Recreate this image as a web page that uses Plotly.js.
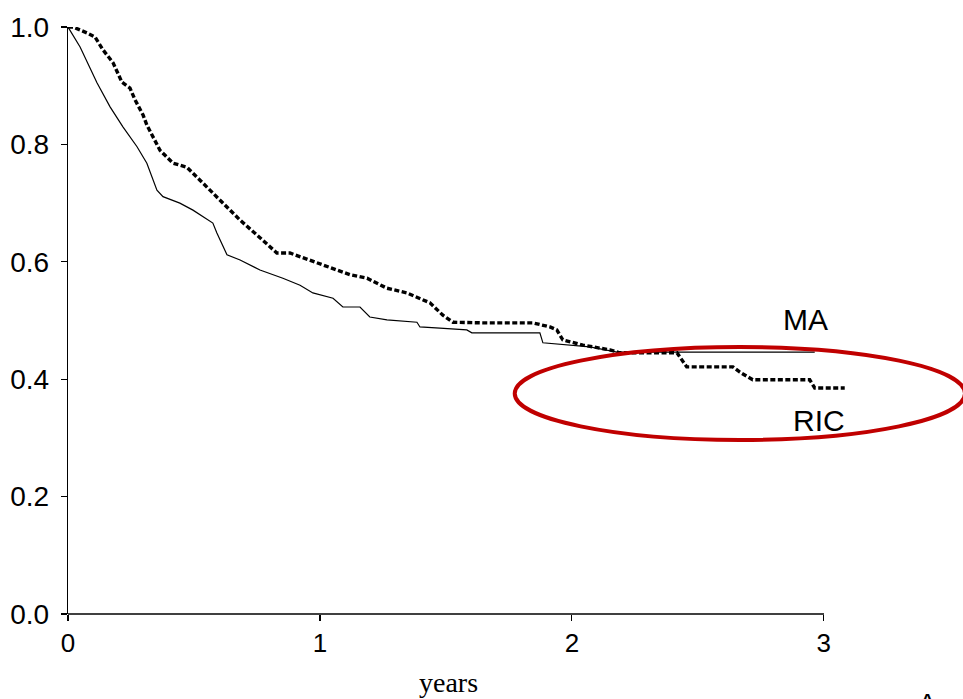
<!DOCTYPE html>
<html>
<head>
<meta charset="utf-8">
<script src="https://cdn.plot.ly/plotly-3.0.1.min.js"></script>
<style>html,body{margin:0;padding:0;background:#fff;}#chart{width:963px;height:699px;}</style>
</head>
<body>
<div id="chart"></div>
<script>
// Survival curves (years, proportion surviving)
var maYears = [0, 0.048, 0.115, 0.167, 0.218, 0.274, 0.313, 0.353, 0.377, 0.444, 0.496, 0.524, 0.575, 0.591, 0.631, 0.683, 0.762, 0.853, 0.921, 0.972, 1.052, 1.091, 1.159, 1.198, 1.266, 1.385, 1.397, 1.476, 1.583, 1.603, 1.873, 1.885, 2.071, 2.179, 2.964];
var maSurv  = [1.0, 0.966, 0.905, 0.864, 0.830, 0.796, 0.768, 0.722, 0.711, 0.700, 0.688, 0.680, 0.666, 0.649, 0.612, 0.603, 0.586, 0.572, 0.560, 0.547, 0.538, 0.523, 0.523, 0.506, 0.501, 0.497, 0.489, 0.487, 0.484, 0.479, 0.479, 0.462, 0.455, 0.446, 0.446];

var ricYears = [0, 0.02, 0.075, 0.107, 0.139, 0.179, 0.214, 0.246, 0.266, 0.298, 0.313, 0.365, 0.417, 0.472, 0.524, 0.591, 0.683, 0.762, 0.829, 0.881, 0.960, 1.052, 1.119, 1.187, 1.266, 1.345, 1.437, 1.488, 1.528, 1.647, 1.845, 1.913, 1.940, 1.964, 2.044, 2.151, 2.190, 2.417, 2.437, 2.456, 2.639, 2.667, 2.718, 2.944, 2.964, 3.083];
var ricSurv  = [1.0, 1.0, 0.990, 0.983, 0.961, 0.939, 0.906, 0.896, 0.876, 0.850, 0.833, 0.790, 0.768, 0.761, 0.739, 0.710, 0.671, 0.641, 0.615, 0.615, 0.603, 0.589, 0.578, 0.572, 0.555, 0.547, 0.530, 0.509, 0.497, 0.496, 0.496, 0.489, 0.484, 0.467, 0.458, 0.450, 0.445, 0.445, 0.433, 0.421, 0.421, 0.412, 0.399, 0.399, 0.385, 0.385];

var xTickVals = [0, 1, 2, 3];
var xTickText = ['0', '1', '2', '3'];
var yTickVals = [0, 0.2, 0.4, 0.6, 0.8, 1.0];
var yTickText = ['0.0', '0.2', '0.4', '0.6', '0.8', '1.0'];
var seriesLabels = ['MA', 'RIC'];

var traces = [
  {x: maYears, y: maSurv, type: 'scatter', mode: 'lines', name: seriesLabels[0],
   line: {color: '#000', width: 1.2, shape: 'linear'}},
  {x: ricYears, y: ricSurv, type: 'scatter', mode: 'lines', name: seriesLabels[1],
   line: {color: '#000', width: 3.4, dash: '5px,2.5px', shape: 'linear'}}
];

var layout = {
  width: 963, height: 699,
  margin: {l: 68, r: 114, t: 27, b: 85, pad: 0},
  paper_bgcolor: '#fff', plot_bgcolor: '#fff',
  showlegend: false,
  font: {family: 'Liberation Sans, Arial, sans-serif', color: '#000'},
  xaxis: {
    range: [0, 3.1], showgrid: false, zeroline: false, showline: false,
    tickmode: 'array', tickvals: xTickVals, ticktext: xTickText,
    ticks: 'outside', ticklen: 6, tickwidth: 1.2, tickcolor: '#000',
    tickfont: {size: 26, family: 'Liberation Sans, Arial, sans-serif', color: '#000'}
  },
  yaxis: {
    range: [0, 1], showgrid: false, zeroline: false, showline: true, linecolor: '#000', linewidth: 1.2,
    tickmode: 'array', tickvals: yTickVals, ticktext: yTickText,
    ticks: 'outside', ticklen: 6, tickwidth: 1.2, tickcolor: '#000',
    ticklabelstandoff: 6,
    tickfont: {size: 28, family: 'Liberation Sans, Arial, sans-serif', color: '#000'}
  },
  shapes: [
    {type: 'line', xref: 'paper', yref: 'paper', x0: 0, x1: 0.968, y0: 0, y1: 0,
     line: {color: '#000', width: 1.5}},
    {type: 'circle', xref: 'paper', yref: 'paper', x0: 0.572, x1: 1.1485, y0: 0.2964, y1: 0.4549,
     line: {color: '#c00000', width: 4}}
  ],
  annotations: [
    {text: seriesLabels[0], xref: 'paper', yref: 'paper', x: 0.9437, y: 0.5009, showarrow: false,
     xanchor: 'center', yanchor: 'middle', font: {size: 30, family: 'Liberation Sans, Arial, sans-serif', color: '#000'}},
    {text: seriesLabels[1], xref: 'paper', yref: 'paper', x: 0.9616, y: 0.3288, showarrow: false,
     xanchor: 'center', yanchor: 'middle', font: {size: 30, family: 'Liberation Sans, Arial, sans-serif', color: '#000'}},
    {text: 'years', xref: 'paper', yref: 'paper', x: 0.4878, y: -0.1175, showarrow: false,
     xanchor: 'center', yanchor: 'middle', font: {size: 28, family: 'Liberation Serif, Times New Roman, serif', color: '#000'}},
    {text: 'A', xref: 'paper', yref: 'paper', x: 1.1, y: -0.123, showarrow: false,
     xanchor: 'center', yanchor: 'top', font: {size: 28, family: 'Liberation Sans, Arial, sans-serif', color: '#000'}}
  ]
};

Plotly.newPlot('chart', traces, layout, {displayModeBar: false, staticPlot: true});
</script>
</body>
</html>
